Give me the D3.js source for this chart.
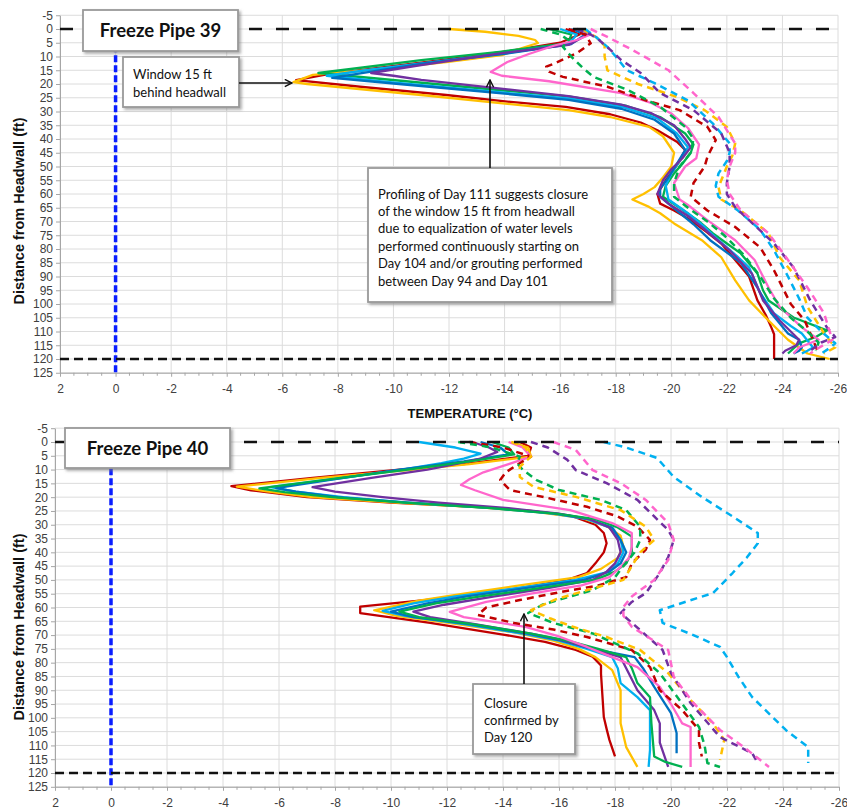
<!DOCTYPE html>
<html>
<head>
<meta charset="utf-8">
<script src="https://cdn.jsdelivr.net/npm/d3@7"></script>
<style>
  body { margin: 0; background: #fff; }
  svg text { font-family: "Liberation Sans", Arial, sans-serif; }
  .tick text { fill: #404040; font-size: 12px; }
  .note { font-family: Lato, "Open Sans", sans-serif !important; font-size: 13px; fill: #111; }
</style>
</head>
<body>
<div id="chart"></div>
<script>
// axis values
const tempTicks = [2, 0, -2, -4, -6, -8, -10, -12, -14, -16, -18, -20, -22, -24, -26];
const depthTicks = [-5, 0, 5, 10, 15, 20, 25, 30, 35, 40, 45, 50, 55, 60, 65, 70, 75, 80, 85, 90, 95, 100, 105, 110, 115, 120, 125];

// colours of the profiles
const RED = "#c00000", GOLD = "#ffc000", GREEN = "#00b050", CYAN = "#00b0f0",
      BLUE = "#0070c0", PURPLE = "#7030a0", PINK = "#ff66cc";

// ---- Freeze Pipe 39 : [depth ft, temperature C] ----
const p39_red = [[0,-16.2],[2,-16.7],[5,-16.0],[8,-14.2],[11,-12.0],[14,-9.6],[16.5,-7.6],[18.6,-6.5],[21,-8.8],[24,-11.9],[26.4,-14.1],[28.3,-16.2],[31,-17.8],[34,-18.9],[36.8,-19.5],[41,-20.2],[44,-20.5],[48,-20.3],[51,-20.1],[55,-19.8],[60,-19.5],[63.5,-19.6],[66,-20.1],[69.5,-20.7],[74,-21.3],[78,-21.8],[84,-22.3],[90,-22.8],[98.7,-23.1],[104,-23.4],[108.5,-23.6],[111,-23.7],[120,-23.7]];
const p39_gold = [[0,-12.0],[1,-13.3],[2.5,-14.5],[4,-15.1],[5.1,-15.2],[7,-14.6],[9.5,-13.9],[12,-11.9],[14.5,-9.6],[16.7,-7.1],[19.3,-6.4],[20,-6.9],[24,-11.0],[29.5,-16.3],[32,-17.8],[35.6,-19.2],[39,-19.7],[45,-20.1],[50,-20.0],[54,-19.7],[57.5,-19.4],[60,-19.0],[62,-18.6],[64.7,-19.2],[67,-19.6],[70.7,-20.1],[76.8,-21.1],[83,-21.8],[91.4,-22.3],[98.7,-22.8],[106,-23.5],[113,-24.2],[118,-24.9],[120,-25.7]];
const p39_green = [[0,-15.6],[2,-16.4],[5.1,-16.3],[8.2,-13.9],[11.3,-11.0],[14,-8.9],[16,-7.3],[18,-9.4],[20,-11.5],[22,-13.6],[24.5,-16.3],[28,-18.4],[32,-19.6],[38,-20.5],[42,-20.8],[45,-20.7],[49,-20.4],[52.5,-20.1],[57,-19.8],[61,-19.7],[65,-20.3],[70,-21.0],[74.3,-21.5],[78,-22.0],[81.6,-22.5],[88.9,-23.1],[95,-23.3],[98.7,-23.5],[104.9,-24.4],[109.6,-25.6],[112,-25.2],[114.3,-24.6],[118,-24.2]];
const p39_cyan = [[0,-16.0],[2,-16.6],[5.5,-16.3],[9,-13.9],[12.5,-11.0],[15,-9.0],[17,-7.6],[19,-9.5],[21,-11.6],[23,-13.8],[25.2,-16.3],[28.5,-18.3],[32.5,-19.5],[38,-20.2],[43,-20.6],[48,-20.3],[52.5,-20.0],[57,-19.8],[62,-19.9],[67,-20.6],[72,-21.2],[76.8,-21.7],[82,-22.3],[86.7,-22.8],[96,-23.2],[103.4,-23.7],[108,-24.3],[110.7,-24.7],[115.8,-25.1],[117,-24.9],[118,-24.7]];
const p39_blue = [[0,-16.4],[2,-16.9],[5.5,-16.4],[9,-14.0],[12.5,-11.1],[15.5,-9.2],[17.8,-7.8],[20,-10.2],[22,-12.4],[24,-14.5],[25.8,-16.3],[29,-18.2],[33,-19.4],[38,-20.1],[44,-20.5],[49,-20.2],[54,-19.9],[58,-19.6],[61,-19.6],[66,-20.2],[71,-20.8],[76.8,-21.4],[85,-22.5],[94,-23.1],[103.4,-23.6],[110.7,-24.2],[113,-24.6],[115.8,-24.7],[117,-24.6],[118,-24.4]];
const p39_purple = [[0,-16.8],[2,-17.0],[5.8,-16.3],[8.8,-13.9],[13.1,-11.0],[16,-9.2],[17,-10.0],[18.5,-11.0],[20.5,-12.8],[22.5,-14.6],[24.4,-16.3],[27.5,-18.2],[30.7,-19.3],[35,-20.1],[40,-20.5],[43,-20.7],[47,-20.4],[51,-20.0],[55,-19.7],[60,-19.5],[63.5,-19.9],[68,-20.6],[72,-21.1],[80.5,-22.1],[88.9,-22.9],[98.7,-23.3],[106,-23.9],[113,-24.6],[115,-24.5],[117,-24.1],[118,-24.0]];
const p39_pink = [[0,-16.8],[2,-17.1],[4,-16.6],[6,-15.8],[9,-14.9],[12,-14.1],[15.6,-13.5],[17,-13.9],[19,-15.6],[23.3,-18.2],[27,-19.3],[30.7,-20.0],[36,-20.6],[42,-21.0],[47,-20.9],[50,-20.5],[56,-20.1],[62,-20.3],[64,-20.6],[69.5,-21.3],[76.8,-22.3],[84,-23.0],[94,-23.5],[101,-23.9],[108.5,-24.7],[113,-25.3],[115.8,-24.6],[118,-24.4]];
const p39_redDash = [[0,-16.3],[2,-16.9],[5.2,-17.1],[8.8,-16.6],[12.5,-15.8],[13.7,-15.5],[15.5,-15.6],[17.4,-16.1],[21,-17.7],[26,-19.1],[29.5,-20.3],[35.6,-21.3],[40.4,-21.6],[46.5,-21.3],[50,-21.2],[56,-20.8],[61,-20.7],[66,-21.3],[72,-22.3],[79.4,-23.2],[87.8,-23.7],[100,-24.3],[106,-24.8],[113,-25.1],[118,-25.3]];
const p39_greenDash = [[0,-15.3],[2,-16.0],[4,-16.3],[6.5,-16.1],[10,-16.4],[14,-16.8],[17.4,-17.2],[22,-18.4],[28.3,-19.6],[35.6,-20.5],[40,-20.8],[45,-20.7],[50,-20.3],[56,-20.1],[61,-20.1],[65,-20.6],[70,-21.3],[75,-21.9],[82,-22.6],[90,-23.2],[98,-23.7],[105,-24.3],[110,-24.9],[114,-25.3],[117,-25.2]];
const p39_goldDash = [[0,-16.8],[3,-17.3],[6,-17.6],[10,-17.6],[15,-17.7],[20,-18.8],[24.7,-20.2],[29.5,-21.2],[35.6,-22.0],[41.6,-22.3],[46,-22.2],[50,-22.0],[57.5,-21.7],[62,-21.8],[66,-22.5],[74.3,-23.5],[83,-23.9],[91.4,-24.6],[101,-24.9],[110.7,-25.5],[115.8,-25.9],[118,-25.5]];
const p39_cyanDash = [[0,-16.9],[3,-17.3],[6.5,-17.7],[10,-18.0],[15,-18.4],[19.7,-19.4],[26,-20.6],[34.4,-21.5],[41.6,-22.1],[45,-22.1],[48,-22.0],[52.5,-21.7],[57,-21.6],[61,-21.7],[66,-22.4],[73,-23.2],[80.5,-23.7],[90,-24.2],[98,-24.6],[105,-24.9],[110,-25.4],[114.3,-25.9],[116,-25.7],[118,-25.4]];
const p39_purpleDash = [[0,-16.6],[2,-17.1],[4,-17.4],[7.5,-17.8],[11.3,-18.2],[16,-18.9],[23.3,-19.6],[29.5,-20.8],[38,-21.8],[45,-22.1],[50,-22.1],[56,-22.0],[60,-22.0],[64.8,-22.3],[69.5,-22.8],[78,-23.7],[86.7,-24.4],[98.7,-25.0],[108.5,-25.6],[112,-25.9],[114,-25.4],[117,-25.0]];
const p39_pinkDash = [[0,-17.1],[2.9,-17.7],[7.6,-18.6],[15,-19.9],[23.3,-20.8],[32,-21.7],[41.6,-22.3],[45,-22.3],[50,-22.1],[55,-22.0],[60,-22.1],[66,-22.5],[74.3,-23.5],[84,-24.2],[94,-24.9],[103.4,-25.5],[110,-25.7],[113,-25.8],[116,-25.3],[118,-25.0]];

// ---- Freeze Pipe 40 : [depth ft, temperature C] ----
const p40_red = [[0,-14.6],[2,-15.0],[5,-14.9],[8,-12.6],[10,-10.3],[13,-7.2],[16,-4.3],[17.5,-5.0],[20,-7.0],[22,-10.0],[23.5,-13.0],[25,-15.0],[27,-16.5],[30,-17.3],[33,-17.6],[36.7,-17.7],[40,-17.6],[44,-17.3],[47.5,-17.0],[50,-16.3],[53,-14.6],[55.5,-12.6],[57.3,-11.2],[59.7,-8.9],[62,-8.9],[65.6,-11.4],[69.8,-14.0],[72.5,-15.5],[75.4,-16.6],[77.8,-17.2],[81,-17.5],[84,-17.5],[99.7,-17.6],[104,-17.7],[108,-17.8],[114,-18.0]];
const p40_gold = [[0,-14.3],[2,-14.9],[5.3,-15.0],[8,-12.8],[10,-10.8],[13,-7.5],[16.2,-4.5],[17.8,-5.5],[20,-7.2],[22,-10.2],[23.7,-13.2],[25.5,-15.3],[27.5,-16.8],[30.5,-17.7],[34,-18.2],[38,-18.3],[42,-18.1],[46,-17.5],[49,-16.7],[52,-14.6],[55,-12.6],[57.5,-11.0],[61,-9.4],[63,-10.2],[65.5,-12.0],[69,-14.4],[72,-15.8],[75,-16.7],[78,-17.3],[82.7,-17.9],[90,-18.2],[102,-18.2],[110.6,-18.4],[117.8,-18.8]];
const p40_cyan = [[0,-11.0],[2,-12.3],[4.2,-13.2],[6,-12.6],[7.7,-11.8],[10,-10.4],[13,-8.3],[16.4,-5.7],[18,-6.6],[20,-8.3],[22,-10.6],[24,-13.6],[26,-15.8],[28,-17.0],[31,-17.8],[35.5,-18.2],[40,-18.3],[44,-18.1],[47,-17.8],[50,-16.6],[53,-14.5],[56,-12.3],[58.5,-10.8],[61.2,-9.7],[63,-10.5],[66,-12.6],[69.5,-14.7],[72,-16.0],[75,-17.0],[78,-17.9],[82,-18.1],[87.4,-18.2],[92.5,-18.8],[97.2,-19.25],[104,-19.25],[111.7,-19.25],[117.8,-19.2]];
const p40_blue = [[0,-13.2],[2,-13.9],[4.5,-14.2],[7,-12.6],[10,-10.3],[13,-8.3],[16.7,-5.9],[18,-6.6],[20,-8.1],[22,-10.6],[24,-13.8],[26,-15.9],[28,-17.1],[31,-17.9],[35.5,-18.2],[40,-18.4],[44,-18.2],[47,-17.8],[50,-16.9],[53,-14.8],[56,-12.7],[58.5,-11.3],[61.5,-10.0],[63.5,-10.8],[66,-12.8],[69.5,-14.9],[72,-16.1],[75,-17.2],[78,-18.7],[82,-19.0],[88.8,-19.4],[98.3,-20.0],[105.5,-20.2],[112.8,-20.2]];
const p40_purple = [[0,-12.9],[2,-13.5],[3.6,-13.8],[6,-13.2],[8,-12.3],[10,-11.3],[13,-9.3],[16.4,-7.2],[18,-8.0],[20,-9.7],[22,-11.7],[24,-14.2],[26,-16.0],[28,-17.1],[31,-17.8],[35.5,-18.1],[40,-18.2],[44,-18.0],[47,-17.7],[50,-17.2],[53,-15.6],[56,-13.7],[59,-11.9],[61.5,-10.8],[63.5,-11.4],[66,-13.0],[69.5,-15.0],[72,-16.2],[75,-17.2],[78,-18.2],[84,-18.5],[90,-18.8],[97.2,-19.4],[102,-19.6],[109,-19.6],[117.8,-19.9]];
const p40_green = [[0,-13.6],[2,-14.2],[4.5,-14.4],[7,-12.8],[10,-10.6],[13,-8.2],[16.8,-5.3],[18.2,-6.2],[20,-7.9],[22,-10.5],[24,-13.6],[26,-15.9],[28,-17.3],[31,-18.1],[34.3,-18.6],[40,-18.6],[44,-18.4],[47,-18.0],[50,-17.3],[53,-15.3],[56,-13.2],[58.5,-11.6],[61.5,-10.3],[63.5,-11.0],[66,-12.9],[69.5,-15.0],[72,-16.3],[75,-17.4],[78,-18.4],[82,-18.6],[87.4,-18.8],[92.5,-19.25],[102,-19.3],[114,-19.4],[116,-19.8],[117.8,-20.4]];
const p40_pink = [[0,-14.2],[2,-14.7],[5.3,-15.0],[8,-14.2],[11,-13.3],[13.5,-12.8],[15.6,-12.5],[17.5,-13.0],[21,-14.0],[24.7,-16.4],[29.4,-17.9],[33,-18.6],[38,-18.6],[42,-18.5],[45.3,-18.2],[49,-17.8],[52,-16.8],[55,-15.0],[58,-13.4],[61.6,-12.1],[63.5,-12.6],[67,-14.8],[70.5,-16.0],[74.3,-17.0],[78,-17.9],[81.6,-18.8],[88.8,-19.6],[95,-20.0],[102,-20.4],[103.3,-20.7],[117.8,-20.7]];
const p40_redDash = [[0,-12.8],[2,-14.0],[5.3,-15.0],[8.3,-14.5],[11,-14.1],[13.8,-13.9],[17.4,-14.25],[20.3,-15.6],[23.5,-17.0],[27,-18.1],[30.7,-18.8],[35.5,-19.25],[39,-19.1],[44,-18.6],[49,-18.4],[52,-17.4],[54.5,-16.0],[57.3,-14.6],[60,-13.4],[62.7,-13.1],[65.6,-14.4],[68,-15.8],[70.7,-17.0],[75.4,-18.6],[81.6,-19.25],[90,-19.6],[97.2,-20.4],[104.4,-21.0],[109,-21.0],[114,-21.1]];
const p40_greenDash = [[0,-12.4],[2,-13.6],[5.3,-14.6],[7.7,-14.5],[10,-14.7],[13.8,-15.2],[17.4,-16.0],[21,-17.5],[24.7,-18.4],[30.7,-18.9],[35.5,-18.9],[40,-18.7],[45,-18.3],[49,-18.0],[53.7,-17.2],[56,-16.4],[59,-15.4],[62,-14.9],[65.6,-15.8],[69.4,-17.2],[76.6,-18.8],[83.8,-19.6],[93.5,-20.3],[103.3,-21.0],[110,-21.2],[116.4,-21.3],[117.8,-21.75]];
const p40_goldDash = [[0,-14.3],[2,-14.8],[5.3,-15.0],[9,-14.6],[12.7,-14.6],[16.3,-15.1],[19.9,-16.6],[24.7,-18.2],[30.7,-19.1],[35.5,-19.4],[40,-18.9],[45,-18.6],[50,-18.3],[53.7,-17.0],[57,-15.9],[61,-15.0],[64,-15.7],[67,-16.5],[70.7,-17.7],[75.4,-18.9],[83.8,-19.9],[92.5,-20.6],[102,-21.5],[108,-21.9],[115.3,-21.75]];
const p40_purpleDash = [[0,-15.0],[2,-15.6],[6.5,-16.3],[10.2,-16.6],[14.9,-17.7],[21,-18.8],[27,-19.4],[31.9,-19.9],[35.5,-20.1],[41.7,-19.9],[47.5,-19.6],[54.8,-19.1],[58,-18.6],[62,-18.2],[68.2,-18.9],[75.4,-19.7],[83.8,-20.0],[94.6,-20.7],[107,-21.75],[112.8,-22.9],[116.4,-23.1]];
const p40_pinkDash = [[0,-15.8],[2.9,-16.6],[10.2,-17.2],[14.9,-18.2],[21,-19.1],[29.4,-19.9],[35.5,-20.1],[42.8,-19.9],[50,-19.4],[56,-18.6],[59.8,-18.3],[63,-18.3],[67,-18.6],[75.4,-19.9],[85.2,-20.1],[94.6,-20.8],[104.4,-21.75],[110.6,-22.6],[117.8,-23.5]];
const p40_cyanDash = [[0,-17.6],[2,-18.4],[5.8,-19.5],[12.7,-20.1],[19.9,-21.1],[27,-22.2],[33,-23.1],[36.7,-23.1],[42,-22.7],[47.5,-22.2],[54.8,-21.5],[58,-20.5],[61,-19.6],[65.6,-19.7],[70,-20.8],[74.3,-21.75],[78,-22.0],[85,-22.4],[92.5,-22.9],[104.4,-24.1],[110.6,-24.9],[116.4,-24.9]];

// text of the call-outs
const title39 = "Freeze Pipe 39";
const title40 = "Freeze Pipe 40";
const note39a = ["Window 15 ft", "behind headwall"];
const note39b = ["Profiling of Day 111 suggests closure", "of the window 15 ft from headwall",
  "due to equalization of water levels", "performed continuously starting on",
  "Day 104 and/or grouting performed", "between Day 94 and Day 101"];
const note40 = ["Closure", "confirmed by", "Day 120"];

const svg = d3.select("#chart").append("svg").attr("width", 847).attr("height", 811);

const defs = svg.append("defs");
defs.append("marker").attr("id", "arrow").attr("viewBox", "0 0 10 10")
  .attr("refX", 9).attr("refY", 5).attr("markerWidth", 9).attr("markerHeight", 9)
  .attr("markerUnits", "userSpaceOnUse")
  .attr("orient", "auto-start-reverse")
  .append("path").attr("d", "M1,1 L9,5 L1,9").attr("fill", "none").attr("stroke", "#111").attr("stroke-width", 1.6);
const shadow = defs.append("filter").attr("id", "shadow").attr("x", "-10%").attr("y", "-10%").attr("width", "130%").attr("height", "140%");
shadow.append("feDropShadow").attr("dx", 2).attr("dy", 2).attr("stdDeviation", 1.5).attr("flood-color", "#777").attr("flood-opacity", 0.6);

function drawPanel(p) {
  const x = d3.scaleLinear().domain([2, -26]).range([p.left, p.right]);
  const y = d3.scaleLinear().domain([-5, 125]).range([p.top, p.bottom]);
  const g = svg.append("g");

  // grid
  g.append("g").selectAll("line").data(tempTicks).join("line")
    .attr("x1", d => x(d)).attr("x2", d => x(d)).attr("y1", y(-5)).attr("y2", y(125))
    .attr("stroke", "#dcdcdc").attr("stroke-width", 1);
  g.append("g").selectAll("line").data(depthTicks).join("line")
    .attr("x1", x(2)).attr("x2", x(-26)).attr("y1", d => y(d)).attr("y2", d => y(d))
    .attr("stroke", "#dcdcdc").attr("stroke-width", 1);

  // axes
  const ax = g.append("g").attr("transform", `translate(0,${y(125)})`)
    .call(d3.axisBottom(x).tickValues(tempTicks).tickFormat(d => String(d)).tickSize(4).tickSizeOuter(0).tickPadding(8));
  ax.append("g").selectAll("line").data(d3.range(2, -26, -0.5).filter(v => v % 2 !== 0)).join("line")
    .attr("x1", d => x(d)).attr("x2", d => x(d)).attr("y1", 0).attr("y2", 3).attr("stroke", "#a6a6a6");
  g.append("g").attr("transform", `translate(${x(2)},0)`)
    .call(d3.axisLeft(y).tickValues(depthTicks).tickFormat(d => String(d)).tickSize(4).tickSizeOuter(0).tickPadding(3));
  g.selectAll(".domain, .tick line").attr("stroke", "#a6a6a6");

  // freezing point
  g.append("line").attr("x1", x(0)).attr("x2", x(0)).attr("y1", y(-5)).attr("y2", y(125))
    .attr("stroke", "#0a1eff").attr("stroke-width", 3.5).attr("stroke-dasharray", "7,3");

  // profiles
  const line = d3.line().x(d => x(d[1])).y(d => y(d[0]));
  g.append("g").selectAll("path").data(p.series).join("path")
    .attr("d", d => line(d.pts)).attr("fill", "none")
    .attr("stroke", d => d.color).attr("stroke-width", d => d.dash ? 2.5 : 2.3)
    .attr("stroke-dasharray", d => d.dash ? "7,5" : null)
    .attr("stroke-linejoin", "round");

  // pipe limits
  g.append("line").attr("x1", x(2)).attr("x2", x(-26)).attr("y1", y(0)).attr("y2", y(0))
    .attr("stroke", "#111").attr("stroke-width", 2.6).attr("stroke-dasharray", "13,14");
  g.append("line").attr("x1", x(2)).attr("x2", x(-26)).attr("y1", y(120)).attr("y2", y(120))
    .attr("stroke", "#111").attr("stroke-width", 2.6).attr("stroke-dasharray", "9,5");

  // y title
  g.append("text").attr("transform", `translate(${p.ytx},${p.yty}) rotate(-90)`)
    .attr("text-anchor", "middle").attr("font-weight", "bold").attr("font-size", 14.5).attr("fill", "#111")
    .text(p.ytitle);
  return g;
}

function box(g, x0, y0, w, h) {
  g.append("rect").attr("x", x0).attr("y", y0).attr("width", w).attr("height", h)
    .attr("fill", "#fff").attr("stroke", "#9a9a9a").attr("stroke-width", 1.8).attr("filter", "url(#shadow)");
}
function lines(g, txt, x0, y0, step) {
  g.append("text").attr("class", "note").selectAll("tspan").data(txt).join("tspan")
    .attr("x", x0).attr("y", (d, i) => y0 + i * step).text(d => d);
}

// ---- top panel ----
const gTop = drawPanel({
  left: 60, right: 838, top: 15.25, bottom: 372.75, ytx: 24, yty: 211,
  ytitle: "Distance from Headwall  (ft)",
  series: [
    { pts: p39_red, color: RED }, { pts: p39_gold, color: GOLD }, { pts: p39_green, color: GREEN },
    { pts: p39_cyan, color: CYAN }, { pts: p39_blue, color: BLUE }, { pts: p39_purple, color: PURPLE },
    { pts: p39_pink, color: PINK },
    { pts: p39_redDash, color: RED, dash: true }, { pts: p39_greenDash, color: GREEN, dash: true },
    { pts: p39_goldDash, color: GOLD, dash: true }, { pts: p39_cyanDash, color: CYAN, dash: true },
    { pts: p39_purpleDash, color: PURPLE, dash: true }, { pts: p39_pinkDash, color: PINK, dash: true }
  ]
});
box(gTop, 83, 10, 155, 41);
gTop.append("text").attr("class", "note").attr("x", 160.5).attr("y", 37).attr("text-anchor", "middle")
  .attr("font-weight", "bold").style("font-size", "18.5px").style("fill", "#111").text(title39);
box(gTop, 123, 57, 116, 50);
lines(gTop, note39a, 133, 78.5, 18);
gTop.append("line").attr("x1", 239).attr("x2", 292).attr("y1", 83).attr("y2", 83)
  .attr("stroke", "#111").attr("stroke-width", 1.6).attr("marker-end", "url(#arrow)");
box(gTop, 368, 168, 244, 134);
lines(gTop, note39b, 378, 198.5, 17.4);
gTop.append("line").attr("x1", 490).attr("x2", 490).attr("y1", 168).attr("y2", 80)
  .attr("stroke", "#111").attr("stroke-width", 1.6).attr("marker-end", "url(#arrow)");

// shared x title
svg.append("text").attr("x", 470).attr("y", 418).attr("text-anchor", "middle")
  .attr("font-weight", "bold").attr("font-size", 13).attr("fill", "#111").text("TEMPERATURE (°C)");

// ---- bottom panel ----
const gBot = drawPanel({
  left: 55, right: 839, top: 428.2, bottom: 786.8, ytx: 24, yty: 627,
  ytitle: "Distance from Headwall (ft)",
  series: [
    { pts: p40_red, color: RED }, { pts: p40_gold, color: GOLD }, { pts: p40_cyan, color: CYAN },
    { pts: p40_blue, color: BLUE }, { pts: p40_purple, color: PURPLE }, { pts: p40_green, color: GREEN },
    { pts: p40_pink, color: PINK },
    { pts: p40_redDash, color: RED, dash: true }, { pts: p40_greenDash, color: GREEN, dash: true },
    { pts: p40_goldDash, color: GOLD, dash: true }, { pts: p40_purpleDash, color: PURPLE, dash: true },
    { pts: p40_pinkDash, color: PINK, dash: true }, { pts: p40_cyanDash, color: CYAN, dash: true }
  ]
});
box(gBot, 65, 428, 165, 40);
gBot.append("text").attr("class", "note").attr("x", 147.5).attr("y", 455).attr("text-anchor", "middle")
  .attr("font-weight", "bold").style("font-size", "18.5px").style("fill", "#111").text(title40);
box(gBot, 473, 684, 102, 70);
lines(gBot, note40, 484, 707.5, 17);
gBot.append("line").attr("x1", 524).attr("x2", 524).attr("y1", 684).attr("y2", 614)
  .attr("stroke", "#111").attr("stroke-width", 1.6).attr("marker-end", "url(#arrow)");
</script>
</body>
</html>
